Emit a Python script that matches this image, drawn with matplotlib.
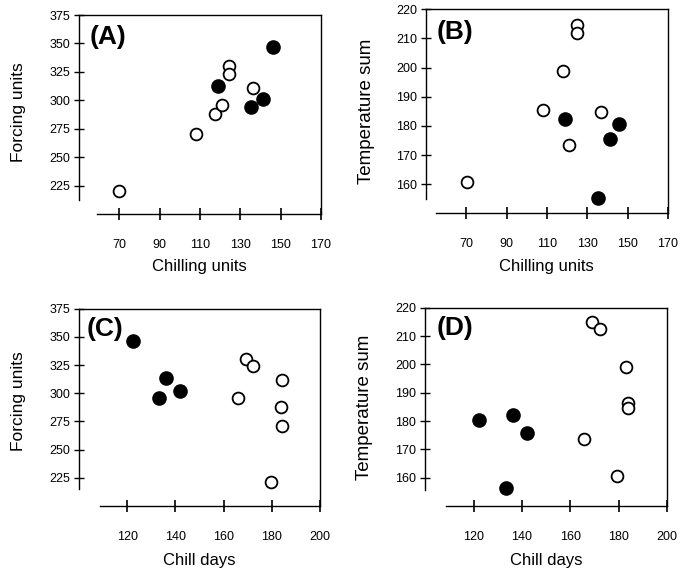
import matplotlib
matplotlib.use("Agg")
import matplotlib.pyplot as plt

plt.rcParams['font.family'] = ['Liberation Sans', 'DejaVu Sans']

# Panel A: chilling units vs forcing units
a_open_x = [70, 108, 117.5, 121, 124.5, 124.5, 136.5]
a_open_y = [220, 270, 288, 296, 330.5, 323.5, 311]
a_fill_x = [119, 135.3, 141, 146]
a_fill_y = [313, 294, 301, 346.5]

# Panel B: chilling units vs temperature sum
b_open_x = [70.3, 107.8, 117.7, 121, 124.8, 124.8, 136.6]
b_open_y = [160.6, 185.3, 198.7, 173.3, 214.6, 212, 184.7]
b_fill_x = [119, 135.5, 141.2, 145.7]
b_fill_y = [182.4, 155.4, 175.4, 180.5]

# Panel C: chill days vs forcing units
c_open_x = [169.5, 172.3, 166.1, 184.1, 183.7, 184.1, 179.5]
c_open_y = [330.3, 323.8, 295.6, 311.8, 287.4, 271.2, 220.9]
c_fill_x = [122.5, 136.1, 133.3, 142.1]
c_fill_y = [346.5, 313.8, 295.6, 302.1]

# Panel D: chill days vs temperature sum
d_open_x = [169, 172.4, 182.9, 183.7, 183.7, 165.8, 179.3]
d_open_y = [214.9, 212.4, 199.1, 186.2, 184.5, 173.8, 160.6]
d_fill_x = [122.3, 136.1, 142.1, 133.2]
d_fill_y = [180.2, 182.1, 175.6, 156.2]

cu_ticks = [70, 90, 110, 130, 150, 170]
cd_ticks = [120, 140, 160, 180, 200]
fu_ticks = [225, 250, 275, 300, 325, 350, 375]
ts_ticks = [160, 170, 180, 190, 200, 210, 220]

W, H = 694, 572
fig = plt.figure(figsize=(W / 100, H / 100), dpi=100)

def px_axes(left, right, top, bottom):
    return fig.add_axes([left / W, 1 - bottom / H, (right - left) / W, (bottom - top) / H])

panels = [
    dict(box=(79, 321, 15, 214), xlim=(50, 170), ylim=(200, 375), xt=cu_ticks, yt=fu_ticks,
         xb=(58.8, 170), yb=(212, 375), xl='Chilling units', yl='Forcing units', tag='(A)',
         ylc=(-0.252, 0.51), xlc=(0.496, -0.266), ylfs=12.5, tagxy=(0.045, 0.887),
         ox=a_open_x, oy=a_open_y, fx=a_fill_x, fy=a_fill_y),
    dict(box=(426, 668, 9.3, 213.3), xlim=(50, 170), ylim=(150, 220), xt=cu_ticks, yt=ts_ticks,
         xb=(55, 170), yb=(155, 220), xl='Chilling units', yl='Temperature sum', tag='(B)',
         ylc=(-0.244, 0.50), xlc=(0.496, -0.262), ylfs=13.5, tagxy=(0.045, 0.889),
         ox=b_open_x, oy=b_open_y, fx=b_fill_x, fy=b_fill_y),
    dict(box=(79, 320, 308.7, 506), xlim=(100, 200), ylim=(200, 375), xt=cd_ticks, yt=fu_ticks,
         xb=(108.6, 200), yb=(215, 375), xl='Chill days', yl='Forcing units', tag='(C)',
         ylc=(-0.252, 0.53), xlc=(0.50, -0.274), ylfs=12.5, tagxy=(0.033, 0.898),
         ox=c_open_x, oy=c_open_y, fx=c_fill_x, fy=c_fill_y),
    dict(box=(425.4, 667, 307.7, 506), xlim=(100, 200), ylim=(150, 220), xt=cd_ticks, yt=ts_ticks,
         xb=(108.7, 200), yb=(155.6, 220), xl='Chill days', yl='Temperature sum', tag='(D)',
         ylc=(-0.25, 0.50), xlc=(0.50, -0.274), ylfs=13.5, tagxy=(0.048, 0.896),
         ox=d_open_x, oy=d_open_y, fx=d_fill_x, fy=d_fill_y),
]

for p in panels:
    ax = px_axes(*p['box'])
    ax.set_xlim(*p['xlim'])
    ax.set_ylim(*p['ylim'])
    ax.set_xticks(p['xt'])
    ax.set_yticks(p['yt'])
    ax.spines['bottom'].set_bounds(*p['xb'])
    ax.spines['left'].set_bounds(*p['yb'])
    for s in ax.spines.values():
        s.set_linewidth(1.0)
        s.set_color('black')
    ax.tick_params(axis='x', direction='inout', length=8, width=1.2, pad=14, labelsize=9)
    ax.tick_params(axis='y', direction='inout', length=7, width=1.0, pad=3, labelsize=9)
    ax.set_xlabel(p['xl'], fontsize=12, va='center')
    ax.set_ylabel(p['yl'], fontsize=p['ylfs'], va='center')
    ax.xaxis.set_label_coords(*p['xlc'])
    ax.yaxis.set_label_coords(*p['ylc'])
    ax.plot(p['ox'], p['oy'], 'o', ms=8.5, mfc='white', mec='black', mew=1.3, clip_on=False)
    ax.plot(p['fx'], p['fy'], 'o', ms=9.5, mfc='black', mec='black', mew=1.0, clip_on=False)
    ax.text(p['tagxy'][0], p['tagxy'][1], p['tag'], transform=ax.transAxes, fontsize=19,
            fontweight='bold', ha='left', va='center')

fig.savefig('out.png', dpi=100)
